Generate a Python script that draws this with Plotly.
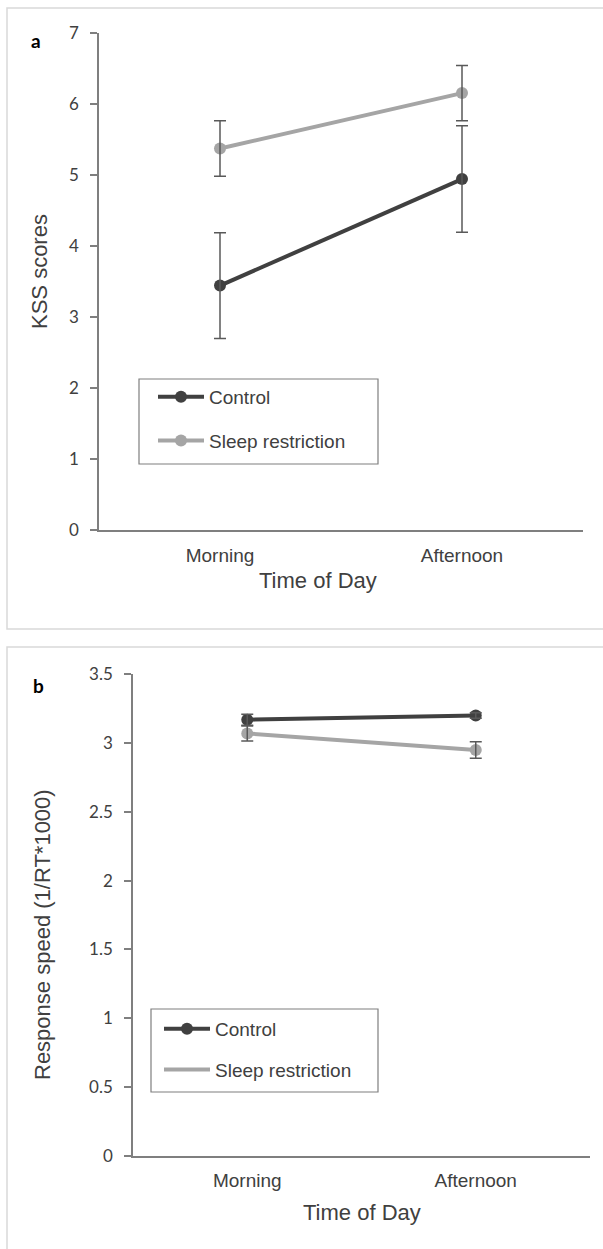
import plotly.graph_objects as go

W, H = 603, 1249

# ---------------- data ----------------
categories = ["Morning", "Afternoon"]

kss_control = [3.44, 4.94]
kss_control_err = [0.745, 0.75]
kss_sleep = [5.37, 6.15]
kss_sleep_err = [0.39, 0.39]

rs_control = [3.17, 3.20]
rs_control_err = [0.04, 0.02]
rs_sleep = [3.07, 2.95]
rs_sleep_err = [0.055, 0.06]

series_names = ["Control", "Sleep restriction"]

# ---------------- style ----------------
C_CTRL = "#404040"
C_SLEEP = "#a5a5a5"
C_ERR = "#595959"
C_AXIS = "#7f7f7f"
C_TEXT = "#404040"
FONT = "Liberation Sans, Arial, sans-serif"
TICKFONT = "Lato, Open Sans, sans-serif"


def px(x):
    return x / W


def py(y):
    return 1 - y / H


xcat = list(range(len(categories)))

fig = go.Figure()


def add_panel(xa, ya, ctrl, ctrl_err, slp, slp_err, legend, sleep_marker_in_legend):
    fig.add_trace(go.Scatter(
        x=xcat, y=ctrl, mode="lines+markers", name=series_names[0],
        line=dict(color=C_CTRL, width=4), marker=dict(color=C_CTRL, size=12),
        xaxis=xa, yaxis=ya, legend=legend, legendgroup=legend + "c",
    ))
    fig.add_trace(go.Scatter(
        x=xcat, y=slp, mode="lines+markers", name=series_names[1],
        line=dict(color=C_SLEEP, width=4), marker=dict(color=C_SLEEP, size=12),
        xaxis=xa, yaxis=ya, legend=legend, legendgroup=legend + "s",
        showlegend=sleep_marker_in_legend,
    ))
    if not sleep_marker_in_legend:
        fig.add_trace(go.Scatter(
            x=[None], y=[None], mode="lines", name=series_names[1],
            line=dict(color=C_SLEEP, width=4),
            xaxis=xa, yaxis=ya, legend=legend, legendgroup=legend + "s",
        ))
    # error bars drawn on top
    for vals, errs in ((ctrl, ctrl_err), (slp, slp_err)):
        fig.add_trace(go.Scatter(
            x=xcat, y=vals, mode="markers",
            marker=dict(size=1, color="rgba(0,0,0,0)"),
            error_y=dict(type="data", array=errs, visible=True,
                         color=C_ERR, thickness=1.5, width=6),
            xaxis=xa, yaxis=ya, showlegend=False, hoverinfo="skip",
        ))


add_panel("x", "y", kss_control, kss_control_err, kss_sleep, kss_sleep_err, "legend", True)
add_panel("x2", "y2", rs_control, rs_control_err, rs_sleep, rs_sleep_err, "legend2", False)

xaxis_common = dict(
    tickmode="array", tickvals=xcat, ticktext=categories, range=[-0.5, 1.5],
    showline=True, linecolor=C_AXIS, linewidth=1.5, ticks="",
    showgrid=False, zeroline=False, automargin=False,
    tickfont=dict(family=FONT, size=19, color=C_TEXT),
    ticklabelstandoff=7,
)
yaxis_common = dict(
    showline=True, linecolor=C_AXIS, linewidth=1.5, ticks="outside",
    ticklen=7, tickcolor=C_AXIS, tickwidth=1.5, showgrid=False, zeroline=False,
    automargin=False,
    tickfont=dict(family=TICKFONT, size=17, color=C_TEXT),
    ticklabelstandoff=8,
)

fig.update_layout(
    width=W, height=H,
    margin=dict(l=0, r=0, t=0, b=0, autoexpand=False),
    paper_bgcolor="white", plot_bgcolor="white",
    xaxis=dict(domain=[px(99), px(583)], anchor="y", **xaxis_common),
    yaxis=dict(domain=[py(530), py(32.7)], anchor="x", range=[0, 7],
               tickvals=[0, 1, 2, 3, 4, 5, 6, 7], **yaxis_common),
    xaxis2=dict(domain=[px(133), px(590)], anchor="y2", **xaxis_common),
    yaxis2=dict(domain=[py(1155.7), py(674.3)], anchor="x2", range=[0, 3.5],
                tickvals=[0, 0.5, 1, 1.5, 2, 2.5, 3, 3.5],
                ticktext=["0", "0.5", "1", "1.5", "2", "2.5", "3", "3.5"],
                **yaxis_common),
    legend=dict(x=px(153), y=py(378), xanchor="left", yanchor="top",
                bgcolor="rgba(0,0,0,0)", borderwidth=0, itemwidth=46,
                font=dict(family=FONT, size=19, color=C_TEXT),
                traceorder="grouped", tracegroupgap=16),
    legend2=dict(x=px(159), y=py(1010), xanchor="left", yanchor="top",
                 bgcolor="rgba(0,0,0,0)", borderwidth=0, itemwidth=46,
                 font=dict(family=FONT, size=19, color=C_TEXT),
                 traceorder="grouped", tracegroupgap=13),
    showlegend=True,
)

# panel borders and legend boxes
shapes = [
    dict(type="rect", xref="paper", yref="paper", x0=px(7), x1=px(612),
         y0=py(629), y1=py(8), line=dict(color="#d9d9d9", width=1.5)),
    dict(type="rect", xref="paper", yref="paper", x0=px(7), x1=px(612),
         y0=py(1260), y1=py(647), line=dict(color="#d9d9d9", width=1.5)),
    dict(type="rect", xref="paper", yref="paper", x0=px(139), x1=px(378),
         y0=py(464), y1=py(379), line=dict(color=C_AXIS, width=1.2)),
    dict(type="rect", xref="paper", yref="paper", x0=px(151), x1=px(378),
         y0=py(1092), y1=py(1009), line=dict(color=C_AXIS, width=1.2)),
]
fig.update_layout(shapes=shapes)

annotations = [
    dict(text="<b>a</b>", x=px(36), y=py(40), font=dict(family=TICKFONT, size=19, color="black")),
    dict(text="<b>b</b>", x=px(38), y=py(685), font=dict(family=TICKFONT, size=19, color="black")),
    dict(text="KSS scores", x=px(40), y=py(272), textangle=-90,
         font=dict(family=FONT, size=22, color=C_TEXT)),
    dict(text="Time of Day", x=px(318), y=py(580),
         font=dict(family=FONT, size=22, color=C_TEXT)),
    dict(text="Response speed (1/RT*1000)", x=px(42), y=py(935), textangle=-90,
         font=dict(family=FONT, size=22, color=C_TEXT)),
    dict(text="Time of Day", x=px(362), y=py(1212),
         font=dict(family=FONT, size=22, color=C_TEXT)),
]
for a in annotations:
    a.update(xref="paper", yref="paper", showarrow=False,
             xanchor="center", yanchor="middle")
fig.update_layout(annotations=annotations)

post = (
    "document.body.style.margin='0';"
    "document.body.style.overflow='hidden';"
    "var d=document.getElementById('{plot_id}');"
    "d.style.position='absolute';d.style.left='0px';d.style.top='0px';"
)
fig.write_html("out.html", post_script=post, config={"displayModeBar": False})
